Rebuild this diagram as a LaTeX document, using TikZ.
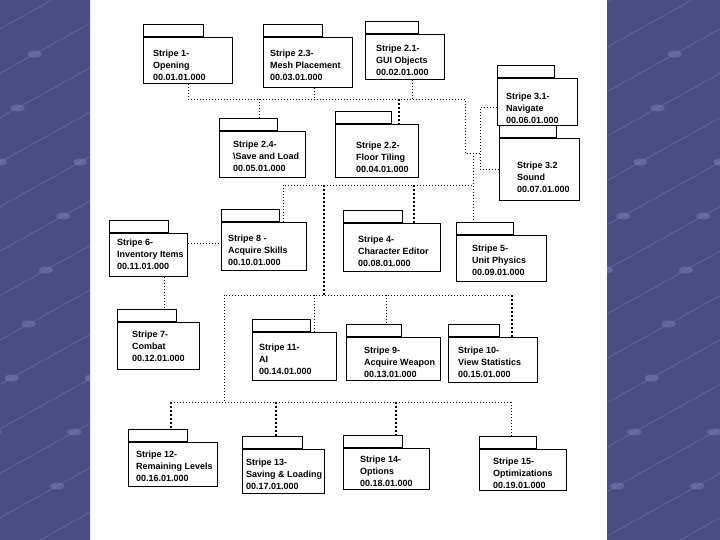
\documentclass[tikz,border=0pt]{standalone}
\usepackage{fontspec}
\setmainfont{Liberation Sans}
\usepackage{xcolor}
\usepackage{tikz}
\definecolor{slideblue}{HTML}{4A4D82}
\definecolor{slideline}{HTML}{7A80B8}

\begin{document}
\begin{tikzpicture}[
        x=1pt, y=-1pt,
        pkg/.style={rectangle, draw=black, line width=0.8pt, fill=white, anchor=north west, inner sep=0pt},
        pkgtab/.style={pkg, anchor=south west, minimum height=12pt},
        pkgtext/.style={anchor=west, align=left, inner sep=0pt, font=\bfseries\fontsize{9}{11.8}\selectfont},
        dep/.style={line width=0.8pt, dash pattern=on 0.8pt off 2.2pt},
        trunk/.style={line width=1.6pt, dash pattern=on 1.6pt off 2.4pt}
    ]
        \useasboundingbox (0,0) rectangle (720,540);
        % slide background
        \fill[white] (0,0) rectangle (720,540);
        \begin{scope}
            \clip (0,0) rectangle (90,540) (607,0) rectangle (720,540);
            \fill[slideblue] (0,0) rectangle (720,540);
            \foreach \i in {-1000,-920,...,720} {
                \draw[slideline, opacity=0.6, line width=0.6pt] (\i,540) -- ++(972,-540);
                \foreach \k in {0.1,0.2,...,0.9}
                    \fill[slideline, opacity=0.5] (\i+972*\k,540-540*\k) ellipse (7pt and 3.5pt);
            }
        \end{scope}

        % packages: name / x / y / width / height / tab / text x / text y / text
        \foreach \n/\x/\y/\w/\h/\t/\tx/\ty/\txt in {
            s1/143/37/89/46/60/153/65/{Stripe 1-\\Opening\\00.01.01.000},
            s23/263/37/89/50/59/270/65/{Stripe 2.3-\\Mesh Placement\\00.03.01.000},
            s21/365/34/79/45/53/376/60/{Stripe 2.1-\\GUI Objects\\00.02.01.000},
            s31/497/78/80/47/57/506/108/{Stripe 3.1-\\Navigate\\00.06.01.000},
            s24/219/131/86/46/58/233/156/{Stripe 2.4-\\\textbackslash Save and Load\\00.05.01.000},
            s22/335/124/83/53/56/356/157/{Stripe 2.2-\\Floor Tiling\\00.04.01.000},
            s32/499/138/80/62/57/517/177/{Stripe 3.2\\Sound\\00.07.01.000},
            s6/109/233/78/43/59/117/254/{Stripe 6-\\Inventory Items\\00.11.01.000},
            s8/221/222/85/48/58/228/250/{Stripe 8 -\\Acquire Skills\\00.10.01.000},
            s4/343/223/97/48/59/358/251/{Stripe 4-\\Character Editor\\00.08.01.000},
            s5/456/235/90/46/57/472/260/{Stripe 5-\\Unit Physics\\00.09.01.000},
            s7/117/322/82/47/59/132/346/{Stripe 7-\\Combat\\00.12.01.000},
            s11/252/332/84/48/58/259/359/{Stripe 11-\\AI\\00.14.01.000},
            s9/346/337/94/43/55/364/362/{Stripe 9-\\Acquire Weapon\\00.13.01.000},
            s10/448/337/89/45/51/458/362/{Stripe 10-\\View Statistics\\00.15.01.000},
            s12/128/442/89/44/59/136/466/{Stripe 12-\\Remaining Levels\\00.16.01.000},
            s13/242/449/82/44/60/246/474/{Stripe 13-\\Saving \& Loading\\00.17.01.000},
            s14/343/448/86/41/59/360/471/{Stripe 14-\\Options\\00.18.01.000},
            s15/479/449/87/41/57/493/473/{Stripe 15-\\Optimizations\\00.19.01.000}} {
            \node[pkg, minimum width=\w pt, minimum height=\h pt] (\n) at (\x,\y) {};
            \node[pkgtab, minimum width=\t pt] (\n-tab) at (\n.north west) {};
            \node[pkgtext] (\n-txt) at (\tx,\ty) {\txt};
        }

        % bus points
        \coordinate (lev2) at (0,185);
        \coordinate (lev4) at (0,402);
        \coordinate (bus1) at (465,99);
        \coordinate (fork) at (480,153);
        \coordinate (bus2) at ([xshift=17pt]s5-tab.north west |- lev2);
        \coordinate (hub2) at (324,185);
        \coordinate (hub3) at (324,295);
        \coordinate (bus3w) at (224,295);
        \coordinate (bus3e) at ([xshift=-26pt]s10.north east |- hub3);
        \coordinate (bus4w) at ([xshift=43pt]s12-tab.north west |- lev4);
        \coordinate (bus4e) at ([xshift=32pt]s15-tab.north west |- lev4);

        % top level
        \draw[dep] (s1.south) |- (bus1) |- (fork);
        \draw[dep] ([xshift=6pt]s23.south) -- ([xshift=6pt]s23.south |- bus1);
        \draw[dep] ([xshift=7pt]s21.south) -- ([xshift=7pt]s21.south |- bus1);
        \draw[dep] ([xshift=11pt]s24-tab.north |- bus1) -- ([xshift=11pt]s24-tab.north);
        \draw[trunk] ([xshift=-20pt]s22.north east |- bus1) -- ([xshift=-20pt]s22.north east);
        \draw[dep] ([yshift=-6pt]s31.west) -| (fork) |- (s32.west);

        % second level
        \draw[dep] ([xshift=17pt]s5-tab.north west |- fork) -- ([xshift=17pt]s5-tab.north west);
        \draw[dep] ([xshift=62pt]s8.north west) |- (bus2);
        \draw[trunk] ([xshift=-27pt]s4.north east |- bus2) -- ([xshift=-27pt]s4.north east);
        \draw[dep] ([yshift=12pt]s6.east) -- ([yshift=12pt]s6.east -| s8.west);
        \draw[dep] ([xshift=-23pt]s6.south east) -- ([xshift=-23pt]s6.south east |- s7-tab.north);
        \draw[trunk] (hub2) -- (hub3);

        % third level
        \draw[dep] (bus3e) -- (bus3w) -- (bus3w |- bus4w);
        \draw[dep] ([xshift=-22pt]s11.north east |- hub3) -- ([xshift=-22pt]s11.north east);
        \draw[dep] ([xshift=40pt]s9-tab.north west |- hub3) -- ([xshift=40pt]s9-tab.north west);
        \draw[trunk] (bus3e) -- ([xshift=-26pt]s10.north east);

        % bottom level
        \draw[dep] (bus4w) -- (bus4e);
        \draw[trunk] (bus4w) -- ([xshift=43pt]s12-tab.north west);
        \draw[trunk] ([xshift=34pt]s13-tab.north west |- bus4w) -- ([xshift=34pt]s13-tab.north west);
        \draw[trunk] ([xshift=53pt]s14-tab.north west |- bus4w) -- ([xshift=53pt]s14-tab.north west);
        \draw[dep] (bus4e) -- ([xshift=32pt]s15-tab.north west);
    \end{tikzpicture}
\end{document}
